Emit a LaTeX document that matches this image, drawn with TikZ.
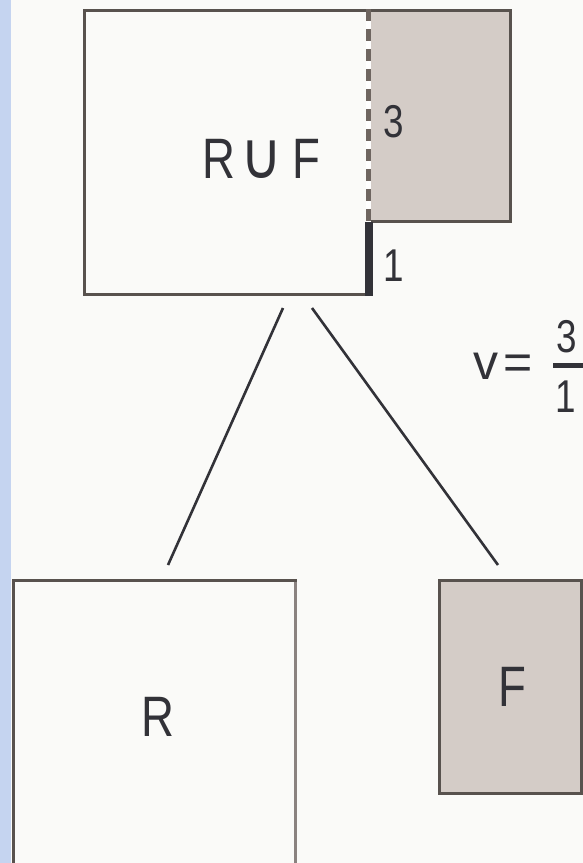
\documentclass[tikz,border=0pt]{standalone}
\usepackage{fontspec}
\setmainfont{Liberation Sans}[FakeStretch=0.8]
\newfontfamily\symfont{DejaVu Sans}
\newfontfamily\plainfont{Liberation Sans}
\definecolor{bgcol}{RGB}{250,250,248}
\definecolor{stripcol}{RGB}{197,212,240}
\definecolor{boxline}{RGB}{88,82,78}
\definecolor{greyfill}{RGB}{212,204,199}
\definecolor{darkcol}{RGB}{50,50,56}
\definecolor{dashcol}{RGB}{110,101,96}
\definecolor{lightedge}{RGB}{138,130,128}
\begin{document}
\begin{tikzpicture}[x=1pt,y=-1pt,
  box/.style={draw=boxline, line width=3pt, inner sep=0pt, outer sep=0pt, anchor=north west},
  lbl/.style={text=darkcol, inner sep=0pt, anchor=base, font=\fontsize{57}{60}\selectfont},
  num/.style={text=darkcol, inner sep=0pt, anchor=base, font=\fontsize{46}{50}\selectfont},
  conn/.style={draw=darkcol, line width=2.6pt},
  dashline/.style={draw=dashcol, line width=5pt, dash pattern=on 12pt off 8pt}]
\useasboundingbox (0,0) rectangle (583,863);
\fill[bgcol] (0,0) rectangle (583,863);
\fill[stripcol] (0,0) rectangle (11,863);
% top composite box
\node[box, fill=bgcol, minimum width=284.5pt, minimum height=283.5pt] (union) at (84.5,10.5) {};
\node[box, fill=greyfill, minimum width=141pt, minimum height=211pt] (fpart) at (369,10.5) {};
\draw[white, line width=5pt] (368,9) -- (368,222);
\draw[dashline] (368,9) -- (368,222);
\fill[darkcol] (365,222) rectangle (373,295.5);
\node[lbl] (ulabel) at (261,178) {R\hspace{6pt}\scalebox{1.15}[1.3]{\symfont\fontsize{50}{54}\selectfont ∪}\hspace{9pt}F};
\node[num] (three) at (394,137) {3};
\node[num] (one) at (394,281) {1};
% formula
\node[num, font=\plainfont\fontsize{50}{54}\selectfont] (veq) at (503,379) {v\hspace{5pt}=};
\node[num] (fnum) at (567,352) {3};
\node[num] (fden) at (566,412) {1};
\node[fill=darkcol, inner sep=0pt, outer sep=0pt, minimum width=30pt, minimum height=4.5pt] (fbar) at (568,365.25) {};
% bottom boxes
\node[box, fill=bgcol, minimum width=282.5pt, minimum height=284pt] (rbox) at (13,580) {};
\draw[lightedge, line width=3pt] (295.5,581.5) -- (295.5,863);
\node[box, fill=greyfill, minimum width=142.5pt, minimum height=213pt] (fbox) at (439,580) {};
\node[lbl] (rlabel) at (158,736) {R};
\node[lbl] (flabel) at (512,706) {F};
% connectors
\coordinate (c1) at (283,308);
\coordinate (c2) at (168,565);
\coordinate (c3) at (312,308);
\coordinate (c4) at (498,565);
\draw[conn] (c1) -- (c2);
\draw[conn] (c3) -- (c4);
\end{tikzpicture}
\end{document}
